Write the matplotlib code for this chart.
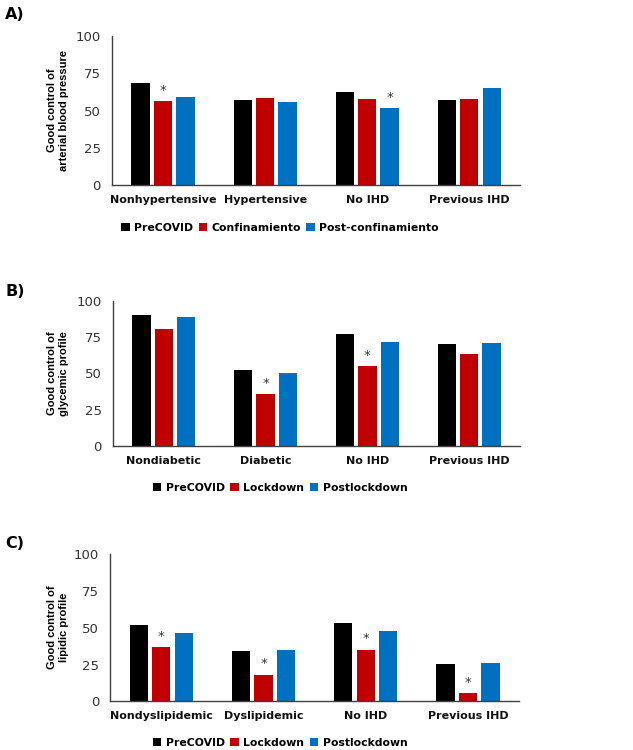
import matplotlib
matplotlib.use("Agg")
import matplotlib.pyplot as plt
from matplotlib.patches import Patch
import numpy as np

cats_a = ["Nonhypertensive", "Hypertensive", "No IHD", "Previous IHD"]
cats_b = ["Nondiabetic", "Diabetic", "No IHD", "Previous IHD"]
cats_c = ["Nondyslipidemic", "Dyslipidemic", "No IHD", "Previous IHD"]

series_a = ["PreCOVID", "Confinamiento", "Post-confinamiento"]
series_bc = ["PreCOVID", "Lockdown", "Postlockdown"]

pre_a = [68.3, 57.0, 62.2, 57.0]
lock_a = [56.4, 58.2, 57.7, 57.5]
post_a = [59.3, 55.7, 51.9, 64.9]

pre_b = [90.0, 52.3, 77.1, 70.0]
lock_b = [80.7, 35.8, 54.8, 63.1]
post_b = [89.0, 50.0, 71.4, 70.7]

pre_c = [51.6, 34.1, 53.2, 25.1]
lock_c = [36.9, 18.1, 35.1, 5.8]
post_c = [46.6, 34.6, 47.9, 26.0]

# significance markers: (category index, series index)
stars_a = [(0, 1), (2, 2)]
stars_b = [(1, 1), (2, 1)]
stars_c = [(0, 1), (1, 1), (2, 1), (3, 1)]

ylabels = ["Good control of\narterial blood pressure",
           "Good control of\nglycemic profile",
           "Good control of\nlipidic profile"]
panel_labels = ["A)", "B)", "C)"]
yticks = [0, 25, 50, 75, 100]

colors = ["#000000", "#C00000", "#0070C0"]

W, H = 633, 750
fig = plt.figure(figsize=(W / 100, H / 100), dpi=100)

# (cats, values, legend names, stars, axes rect, legend center y px, panel label y px)
panels = [
    (cats_a, [pre_a, lock_a, post_a], series_a, stars_a, [0.177, 0.7533, 0.645, 0.1987], 228, 7),
    (cats_b, [pre_b, lock_b, post_b], series_bc, stars_b, [0.1785, 0.4053, 0.643, 0.1937], 488, 284),
    (cats_c, [pre_c, lock_c, post_c], series_bc, stars_c, [0.174, 0.0649, 0.646, 0.1964], 743, 536),
]

label_font = ["Liberation Sans", "DejaVu Sans"]
width = 0.18
offsets = [-0.22, 0.0, 0.22]
spine_color = "#404040"

for i, (cats, vals, names, stars, rect, leg_y, lab_y) in enumerate(panels):
    ax = fig.add_axes(rect)
    x = np.arange(len(cats))
    for j, v in enumerate(vals):
        ax.bar(x + offsets[j], v, width, color=colors[j], zorder=2)
    for (ci, sj) in stars:
        ax.annotate("*", (x[ci] + offsets[sj], vals[sj][ci]), xytext=(0, 3),
                    textcoords="offset points", ha="center", va="bottom",
                    fontsize=9.5, color="#333333")
    ax.set_xlim(-0.5, 3.5)
    ax.set_ylim(0, 100)
    ax.set_yticks(yticks)
    ax.set_xticks(x)
    ax.set_xticklabels(cats, fontsize=8, fontweight="bold", color="#111111")
    ax.tick_params(axis="y", labelsize=9.5, colors="#333333", length=0, pad=8)
    ax.tick_params(axis="x", length=0, pad=7)
    for s in ["top", "right"]:
        ax.spines[s].set_visible(False)
    for s in ["left", "bottom"]:
        ax.spines[s].set_color(spine_color)
        ax.spines[s].set_linewidth(1.0)
    # y label, centered on the axes vertically
    yc = rect[1] + rect[3] / 2
    fig.text(58 / W, yc, ylabels[i], rotation=90, ha="center", va="center",
             fontsize=8, fontweight="bold", family=label_font,
             linespacing=1.2, multialignment="center")
    fig.text(0.008, 1 - lab_y / H, panel_labels[i], fontsize=11.5, fontweight="bold",
             ha="left", va="top")
    handles = [Patch(facecolor=colors[k], edgecolor="none") for k in range(3)]
    fig.legend(handles, names, loc="center", bbox_to_anchor=(280 / W, 1 - leg_y / H),
               ncol=3, frameon=False, handlelength=0.8, handleheight=0.8,
               handletextpad=0.4, columnspacing=0.5, borderpad=0.1,
               prop={"size": 7.8, "weight": "bold"})

fig.savefig("out.png", dpi=100)
